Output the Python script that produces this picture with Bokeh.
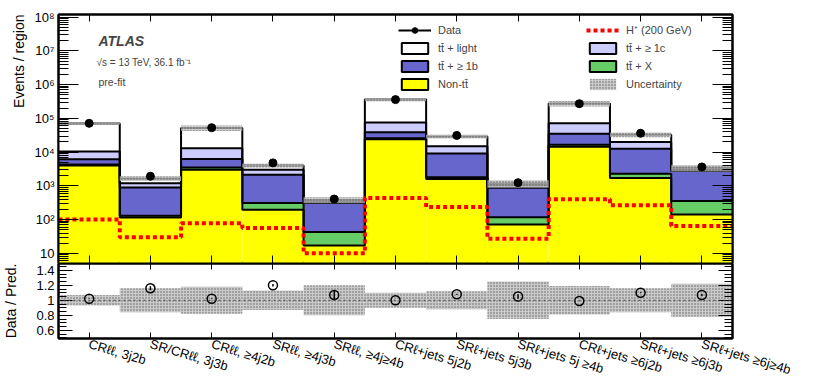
import numpy as np
from bokeh.plotting import figure
from bokeh.models import (Range1d, FixedTicker, LinearAxis, LogAxis, Label, Legend, Title,
                          LegendItem, ColumnDataSource, Span, CustomJSTickFormatter)
from bokeh.layouts import column
from bokeh.embed import file_html
from bokeh.resources import INLINE

# ---------------- data ----------------
regions = ["CRℓℓ, 3j2b", "SR/CRℓℓ, 3j3b", "CRℓℓ, ≥4j2b", "SRℓℓ, ≥4j3b", "SRℓℓ, ≥4j≥4b",
           "CRℓ+jets 5j2b", "SRℓ+jets 5j3b", "SRℓ+jets 5j ≥4b", "CRℓ+jets ≥6j2b",
           "SRℓ+jets ≥6j3b", "SRℓ+jets ≥6j≥4b"]
non_tt = [4000, 115, 3000, 195, 17, 24000, 1600, 72, 14500, 1700, 142]
tt_x = [300, 15, 500, 115, 26, 2000, 200, 45, 2000, 600, 213]
tt_1b = [1900, 770, 2800, 1840, 267, 13000, 7300, 763, 18500, 10300, 2400]
tt_1c = [4300, 300, 6700, 850, 45, 37000, 5900, 180, 37000, 7400, 400]
tt_light = [59500, 460, 39000, 1000, 25, 284000, 14000, 120, 204000, 13000, 245]
data = [71400, 1925, 53000, 4800, 407, 360000, 31300, 1240, 273000, 36300, 3640]
hplus = [100, 30, 78, 56, 10, 440, 235, 27, 400, 265, 65]
rel_unc = [0.07, 0.16, 0.18, 0.13, 0.20, 0.10, 0.12, 0.25, 0.19, 0.16, 0.22]

main_ticks = [10, 100, 1000, 10**4, 10**5, 10**6, 10**7, 10**8]
main_tick_labels = ["10", "10²", "10³", "10⁴", "10⁵", "10⁶", "10⁷", "10⁸"]
ratio_ticks = [0.6, 0.8, 1.0, 1.2, 1.4]
ratio_tick_labels = ["0.6", "0.8", "1", "1.2", "1.4"]

FONT = "Liberation Sans"
W = 806
BL, BR = 57, 74
n = len(regions)
centers = np.arange(n, dtype=float)
lefts = centers - 0.5
rights = centers + 0.5

layers = [("Non-tt̄", non_tt, "#ffff00"),
          ("tt̄ + X", tt_x, "#66cc66"),
          ("tt̄ + ≥ 1b", tt_1b, "#6666cc"),
          ("tt̄ + ≥ 1c", tt_1c, "#ccccff"),
          ("tt̄ + light", tt_light, "#ffffff")]


def step_xy(vals):
    xs, ys = [], []
    for i, v in enumerate(vals):
        xs += [lefts[i], rights[i]]
        ys += [v, v]
    return xs, ys


def style_axis(ax, major_in, minor_in, show_labels=True, size="13px"):
    ax.major_tick_in = major_in
    ax.major_tick_out = 0
    ax.minor_tick_in = minor_in
    ax.minor_tick_out = 0
    ax.axis_line_width = 2
    ax.axis_line_color = "black"
    ax.major_tick_line_color = "black"
    ax.minor_tick_line_color = "black"
    ax.major_label_text_font = FONT
    ax.major_label_text_color = "black"
    ax.axis_label_text_font = FONT
    ax.axis_label_text_font_style = "normal"
    ax.axis_label_text_font_size = "14px"
    ax.axis_label_text_color = "black"
    if show_labels:
        ax.major_label_text_font_size = size
    else:
        ax.formatter = CustomJSTickFormatter(code="return ''")
        ax.major_label_text_font_size = "1px"
        ax.major_label_standoff = 0


# ---------------- main panel ----------------
p = figure(width=W, height=263, x_range=Range1d(-0.5, n - 0.5), y_range=Range1d(5, 1.2e8),
           y_axis_type="log", output_backend="svg", toolbar_location=None,
           min_border_left=BL, min_border_right=BR, min_border_top=14, min_border_bottom=0)
p.xgrid.visible = False
p.ygrid.visible = False
p.outline_line_color = "black"
p.outline_line_width = 2
p.background_fill_color = "white"

log_minor = [m * 10.0 ** k for k in range(0, 9) for m in range(2, 10)]
xtick = FixedTicker(ticks=list(centers), minor_ticks=[])
ytick = FixedTicker(ticks=main_ticks, minor_ticks=log_minor)

p.yaxis[0].ticker = ytick
p.yaxis[0].major_label_overrides = {t: l for t, l in zip(main_ticks, main_tick_labels)}
style_axis(p.yaxis[0], 20, 10, True, "13px")
p.yaxis[0].major_label_standoff = 4
p.xaxis[0].ticker = xtick
style_axis(p.xaxis[0], 8, 0, False)

ax_top = LinearAxis(ticker=xtick)
style_axis(ax_top, 7, 0, False)
p.add_layout(ax_top, "above")
ax_right = LogAxis(ticker=ytick)
style_axis(ax_right, 20, 10, False)
p.add_layout(ax_right, "right")

p.add_layout(Title(text="Events / region", align="right", text_font=FONT,
                   text_font_size="14px", text_font_style="normal", text_color="black"),
             "left")

# stacked fills
cum = np.zeros(n)
tops = []
for name, vals, col in layers:
    bottom = cum.copy() if cum.any() else np.full(n, 1.0)
    cum = cum + np.array(vals, dtype=float)
    tops.append(cum.copy())
    p.quad(left=lefts, right=rights, bottom=bottom, top=cum.copy(),
           fill_color=col, line_color=None)
# outlines as steps
for t in tops:
    xs, ys = step_xy(t)
    p.line(xs, ys, line_color="black", line_width=2)

total = tops[-1]
unc = np.array(rel_unc)
band_style = dict(fill_color="#bdbdbd", fill_alpha=0.8, hatch_pattern="dot",
                  hatch_color="#606060", hatch_scale=3, hatch_weight=1, line_color=None)
r_unc = p.quad(left=lefts, right=rights, bottom=total * (1 - unc), top=total * (1 + unc),
               **band_style)

hx, hy = step_xy(hplus)
r_h = p.line(hx, hy, line_color="#ff0000", line_width=4, line_dash="4 3")

d = np.array(data, dtype=float)
r_err = p.segment(x0=centers, x1=centers, y0=d - np.sqrt(d), y1=d + np.sqrt(d),
                  line_color="black", line_width=2)
r_dat = p.scatter(centers, d, size=8, marker="circle", fill_color="black", line_color="black")

# legend-only swatch renderers (no drawable coordinates; they only give the legend boxes)
legend_r = {}
for name, vals, col in layers:
    src = ColumnDataSource(data=dict(left=[np.nan], right=[np.nan], top=[np.nan],
                                     bottom=[np.nan]))
    legend_r[name] = p.quad(left="left", right="right", top="top", bottom="bottom",
                            source=src, fill_color=col, line_color="black", line_width=2)

leg_style = dict(background_fill_alpha=0, border_line_color=None, label_text_font=FONT,
                 label_text_font_size="11px", glyph_width=33, glyph_height=14,
                 label_height=14, label_standoff=7, spacing=4, padding=0, margin=0)
leg1 = Legend(items=[LegendItem(label="Data", renderers=[r_err, r_dat]),
                     LegendItem(label="tt̄ + light", renderers=[legend_r["tt̄ + light"]]),
                     LegendItem(label="tt̄ + ≥ 1b", renderers=[legend_r["tt̄ + ≥ 1b"]]),
                     LegendItem(label="Non-tt̄", renderers=[legend_r["Non-tt̄"]])],
              location=(340, 172), **leg_style)
leg2 = Legend(items=[LegendItem(label="H⁺ (200 GeV)", renderers=[r_h]),
                     LegendItem(label="tt̄ + ≥ 1c", renderers=[legend_r["tt̄ + ≥ 1c"]]),
                     LegendItem(label="tt̄ + X", renderers=[legend_r["tt̄ + X"]]),
                     LegendItem(label="Uncertainty", renderers=[r_unc])],
              location=(528, 172), **leg_style)
p.add_layout(leg1)
p.add_layout(leg2)

p.add_layout(Label(x=40, y=223, x_units="screen", y_units="screen", text="ATLAS",
                   text_font=FONT, text_font_size="14px", text_font_style="bold italic",
                   text_baseline="middle"))
p.add_layout(Label(x=38, y=201, x_units="screen", y_units="screen",
                   text="√s = 13 TeV, 36.1 fb⁻¹", text_font=FONT, text_font_size="10px",
                   text_baseline="middle"))
p.add_layout(Label(x=40, y=182, x_units="screen", y_units="screen", text="pre-fit",
                   text_font=FONT, text_font_size="10.5px", text_baseline="middle"))

# ---------------- ratio panel ----------------
r = figure(width=W, height=124, x_range=p.x_range, y_range=Range1d(0.49, 1.49),
           output_backend="svg", toolbar_location=None,
           min_border_left=BL, min_border_right=BR, min_border_top=0, min_border_bottom=49)
r.xgrid.visible = False
r.ygrid.visible = False
r.outline_line_color = "black"
r.outline_line_width = 2

rminor = [round(0.5 + 0.05 * k, 2) for k in range(20)]
rtick = FixedTicker(ticks=ratio_ticks, minor_ticks=rminor)
r.yaxis[0].ticker = rtick
r.yaxis[0].major_label_overrides = {t: l for t, l in zip(ratio_ticks, ratio_tick_labels)}
style_axis(r.yaxis[0], 14, 8, True, "13px")
r.yaxis[0].major_label_standoff = 4
r.yaxis[0].axis_label = "Data / Pred."
r.yaxis[0].axis_label_standoff = 14
r.xaxis[0].ticker = xtick
r.xaxis[0].major_label_overrides = {int(i): lab for i, lab in enumerate(regions)}
style_axis(r.xaxis[0], 6, 0, True, "13px")
r.xaxis[0].major_label_orientation = -0.29
r.xaxis[0].major_label_standoff = 5

r_top = LinearAxis(ticker=xtick)
style_axis(r_top, 6, 0, False)
r.add_layout(r_top, "above")
r_right = LinearAxis(ticker=rtick)
style_axis(r_right, 14, 8, False)
r.add_layout(r_right, "right")

r.quad(left=lefts, right=rights, bottom=1 - unc, top=1 + unc, **band_style)
r.add_layout(Span(location=1.0, dimension="width", line_color="#444444", line_width=1,
                  line_dash="2 3"))
ratio = d / total
rerr = np.sqrt(d) / total
r.segment(x0=centers, x1=centers, y0=ratio - rerr, y1=ratio + rerr, line_color="black",
          line_width=1.5)
r.scatter(centers, ratio, size=9, marker="circle", fill_color=None, line_color="black",
          line_width=1.5)

layout = column(p, r, spacing=0)
open("out.html", "w").write(file_html(layout, INLINE))
